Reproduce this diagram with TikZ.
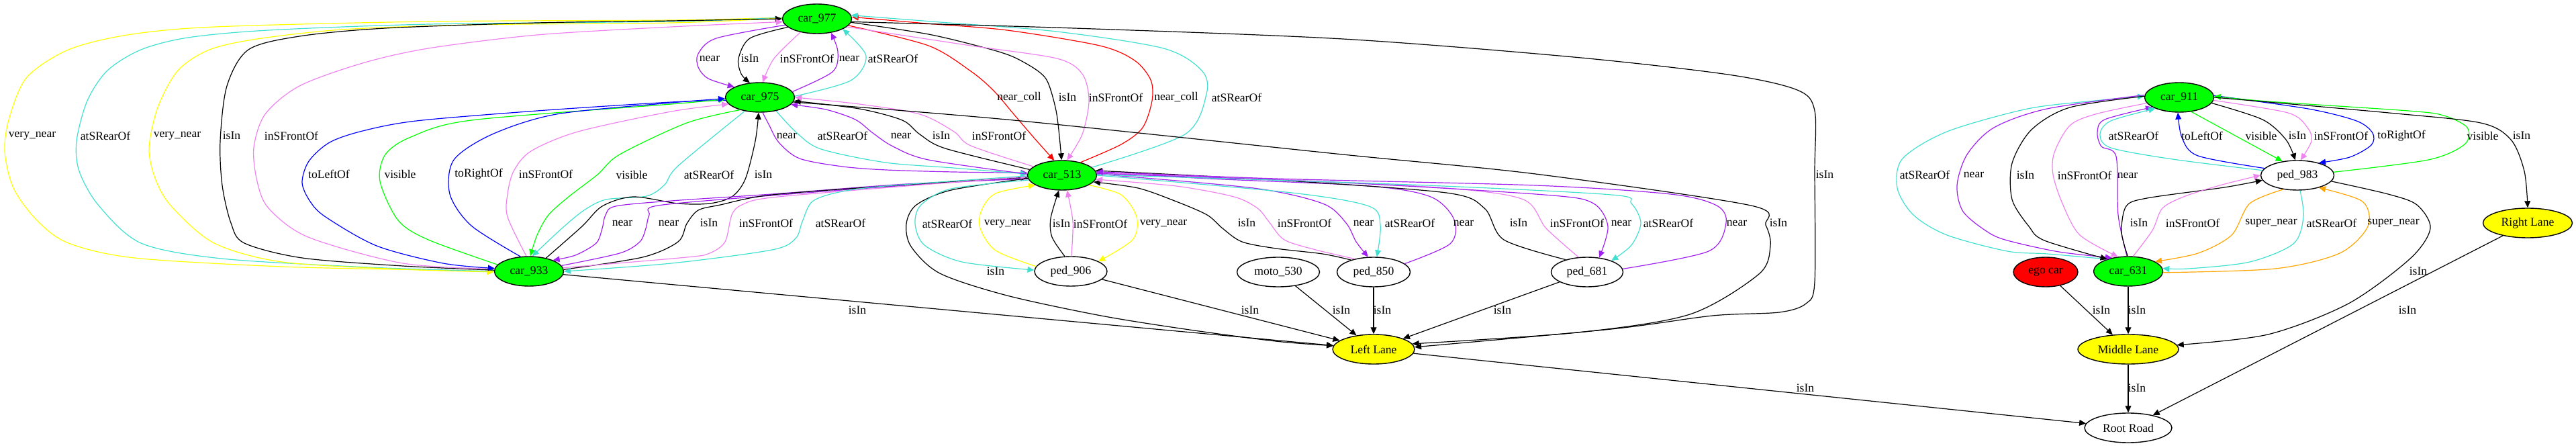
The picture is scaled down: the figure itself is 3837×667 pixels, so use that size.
\documentclass[tikz,border=0pt]{standalone}
\usepackage{fontspec}
\setmainfont{Liberation Serif}
\usetikzlibrary{shapes.geometric,arrows.meta}
\definecolor{cgreen}{HTML}{00FF00}
\definecolor{cyellow}{HTML}{FFFF00}
\definecolor{cred}{HTML}{FF0000}
\definecolor{cnear}{HTML}{A020F0}
\definecolor{cfront}{HTML}{EE82EE}
\definecolor{crear}{HTML}{40E0D0}
\definecolor{cvnear}{HTML}{FFFF00}
\definecolor{cvis}{HTML}{00FF00}
\definecolor{cside}{HTML}{0000FF}
\definecolor{ccoll}{HTML}{FF0000}
\definecolor{csuper}{HTML}{FFA500}

\begin{document}
\begin{tikzpicture}[x=0.5pt, y=-0.5pt, >={Triangle[length=5pt,width=4.4pt]},
    ent/.style={ellipse, draw, line width=0.7pt, inner sep=0pt,
        minimum height=22pt, minimum width=51.5pt, font=\fontsize{8.8}{10}\selectfont},
    car/.style={ent, fill=cgreen},
    lane/.style={ent, fill=cyellow},
    obj/.style={ent, fill=white},
    rel/.style={->, line width=0.6pt},
    lbl/.style={font=\fontsize{8.8}{10}\selectfont, inner sep=0pt}]

\useasboundingbox (0,0) rectangle (3837,667);

% Vehicles and lanes, left group
\node[car] (car977) at (1217,28) {car\_977};
\node[car] (car975) at (1132,145) {car\_975};
\node[car] (car513) at (1582,261) {car\_513};
\node[car] (car933) at (788,404) {car\_933};
\node[obj, minimum width=54pt] (ped906) at (1595,404) {ped\_906};
\node[obj, minimum width=61.5pt] (moto530) at (1904,405) {moto\_530};
\node[obj, minimum width=54.5pt] (ped850) at (2046,405) {ped\_850};
\node[obj, minimum width=53.5pt] (ped681) at (2364,405) {ped\_681};
\node[lane, minimum width=61pt] (leftlane) at (2046,520) {Left Lane};

% Right group
\node[car] (car911) at (3246,145) {car\_911};
\node[obj, minimum width=54.5pt] (ped983) at (3422,261) {ped\_983};
\node[ent, fill=cred, minimum width=48pt] (ego) at (3047,405) {ego car};
\node[car] (car631) at (3170,404) {car\_631};
\node[lane, minimum width=75pt] (midlane) at (3170,520) {Middle Lane};
\node[lane, minimum width=66.5pt] (rightlane) at (3765,332) {Right Lane};
\node[obj, minimum width=65pt] (root) at (3170,637) {Root Road};

% car_977 <-> car_933, round the left
\draw[rel, cvnear] plot[smooth] coordinates {(car977.178) (1000,30) (640,32) (320,40) (190,52) (102,74) (40,115) (14,175) (7,225) (20,280) (55,328) (102,362) (200,384) (420,397) (640,402) (car933.180)};
\node[lbl] (l1) at (48,202) {very\_near};
\draw[rel, crear] plot[smooth] coordinates {(car977.178) (1000,32) (640,36) (400,45) (280,56) (210,74) (160,105) (130,150) (114,210) (118,255) (147,306) (210,362) (330,385) (550,398) (car933.180)};
\node[lbl] (l2) at (157,202) {atSRearOf};
\draw[rel, cvnear] plot[smooth] coordinates {(car977.179) (1000,34) (700,37) (510,44) (383,58) (312,74) (265,105) (235,160) (222,221) (232,268) (256,308) (319,362) (420,390) (600,401) (car933.181)};
\node[lbl] (l3) at (264,202) {very\_near};
\draw[rel] plot[smooth] coordinates {(car933.178) (600,396) (450,384) (364,362) (344,332) (331,276) (328,210) (338,128) (370,74) (446,54) (574,42) (800,34) (1000,31) (car977.180)};
\node[lbl] (l4) at (345,202) {isIn};
\draw[rel, cfront] plot[smooth] coordinates {(car933.176) (600,392) (459,353) (400,310) (383,270) (378,220) (395,170) (446,128) (540,94) (638,72) (800,52) (1000,40) (car977.185)};
\node[lbl] (l5) at (434,202) {inSFrontOf};

% car_975 <-> car_933
\draw[rel, cside] plot[smooth] coordinates {(car975.185) (1000,152) (800,165) (620,180) (540,195) (491,212) (460,240) (450,272) (462,300) (485,323) (561,366) (660,392) (car933.175)};
\node[lbl] (l6) at (490,259) {toLeftOf};
\draw[rel, cvis] plot[smooth] coordinates {(car933.168) (638,357) (593,328) (566,270) (574,230) (612,204) (702,179) (1000,155) (car975.183)};
\node[lbl] (l7) at (596,259) {visible};
\draw[rel, cside] plot[smooth] coordinates {(car933.120) (702,336) (670,289) (676,238) (733,200) (829,170) (1000,153) (car975.182)};
\node[lbl] (l8) at (713,259) {toRightOf};
\draw[rel, cfront] plot[smooth] coordinates {(car933.100) (756,323) (756,289) (765,255) (791,225) (861,196) (1000,166) (car975.192)};
\node[lbl] (l9) at (813,259) {inSFrontOf};
\draw[rel, cvis] plot[smooth] coordinates {(car975.212) (1023,183) (923,230) (890,260) (847,293) (817,320) (800,350) (car933.85)};
\node[lbl] (l10) at (941,260) {visible};
\draw[rel, crear] plot[smooth] coordinates {(car975.222) (1010,247) (990,275) (963,292) (903,297) (870,313) (837,340) (car933.78)};
\node[lbl] (l11) at (1056,260) {atSRearOf};
\draw[rel] plot[smooth] coordinates {(car933.38) (867,337) (897,307) (943,293) (1010,303) (1057,303) (1090,293) (1110,267) (1125,210) (car975.265)};
\node[lbl] (l12) at (1137,260) {isIn};

% car_513 <-> car_933
\draw[rel, cnear] plot[smooth] coordinates {(car513.186) (1350,274) (1150,289) (1000,299) (917,307) (902,320) (897,340) (888,362) (857,380) (car933.25)};
\node[lbl] (l13) at (927,332) {near};
\draw[rel, cnear] plot[smooth] coordinates {(car933.10) (923,377) (953,360) (962,340) (967,320) (980,306) (1150,291) (1350,276) (car513.184)};
\node[lbl] (l14) at (996,332) {near};
\draw[rel] plot[smooth] coordinates {(car933.3) (957,383) (1010,360) (1023,333) (1040,313) (1073,305) (1150,290) (1350,275) (car513.183)};
\node[lbl] (l15) at (1056,332) {isIn};
\draw[rel, cfront] plot[smooth] coordinates {(car933.6) (1023,383) (1057,377) (1080,360) (1090,320) (1105,305) (1150,294) (1350,277) (car513.182)};
\node[lbl] (l16) at (1141,332) {inSFrontOf};
\draw[rel, crear] plot[smooth] coordinates {(car513.181) (1319,277) (1250,286) (1210,300) (1195,330) (1185,355) (1150,372) (1000,392) (car933.0)};
\node[lbl] (l17) at (1252,332) {atSRearOf};

% car_975 <-> car_513
\draw[rel, cnear] plot[smooth] coordinates {(car975.280) (1145,185) (1160,212) (1191,236) (1255,248) (1320,253) (1420,256) (car513.176)};
\node[lbl] (l18) at (1172,202) {near};
\draw[rel, crear] plot[smooth] coordinates {(car975.320) (1187,198) (1223,222) (1319,242) (1420,250) (car513.178)};
\node[lbl] (l19) at (1255,202) {atSRearOf};
\draw[rel, cnear] plot[smooth] coordinates {(car513.178) (1383,238) (1330,218) (1300,198) (1274,178) (1230,163) (car975.347)};
\node[lbl] (l20) at (1342,202) {near};
\draw[rel] plot[smooth] coordinates {(car513.170) (1408,221) (1370,200) (1344,179) (1280,162) (car975.354)};
\node[lbl] (l21) at (1402,202) {isIn};
\draw[rel, cfront] plot[smooth] coordinates {(car513.163) (1446,217) (1421,196) (1370,170) (1280,155) (car975.0)};
\node[lbl] (l22) at (1488,202) {inSFrontOf};

% car_977 <-> car_975
\draw[rel, cnear] plot[smooth] coordinates {(car977.191) (1067,57) (1040,80) (1040,100) (1055,117) (car975.158)};
\node[lbl] (l23) at (1057,87) {near};
\draw[rel] plot[smooth] coordinates {(car977.196) (1117,57) (1100,87) (1104,110) (car975.125)};
\node[lbl] (l24) at (1117,87) {isIn};
\draw[rel, cfront] plot[smooth] coordinates {(car977.219) (1153,87) (car975.80)};
\node[lbl] (l25) at (1202,87) {inSFrontOf};
\draw[rel, cnear] plot[smooth] coordinates {(car975.10) (1240,107) (1248,77) (car977.315)};
\node[lbl] (l26) at (1265,87) {near};
\draw[rel, crear] plot[smooth] coordinates {(car975.2) (1267,120) (1290,83) (car977.338)};
\node[lbl] (l27) at (1330,87) {atSRearOf};

% car_977 <-> car_513
\draw[rel, ccoll] plot[smooth] coordinates {(car977.348) (1383,68) (1446,106) (1480,135) (1510,170) (1540,205) (car513.118)};
\node[lbl] (l28) at (1518,145) {near\_coll};
\draw[rel] plot[smooth] coordinates {(car977.354) (1383,51) (1470,72) (1510,85) (1545,105) (1561,123) (1574,170) (car513.92)};
\node[lbl] (l29) at (1590,145) {isIn};
\draw[rel, cfront] plot[smooth] coordinates {(car977.345) (1446,68) (1574,87) (1612,110) (1622,150) (1612,200) (car513.72)};
\node[lbl] (l30) at (1662,145) {inSFrontOf};
\draw[rel, ccoll] plot[smooth] coordinates {(car513.35) (1670,215) (1702,190) (1716,150) (1714,119) (1690,90) (1638,68) (1500,45) (1380,35) (car977.3)};
\node[lbl] (l31) at (1752,145) {near\_coll};
\draw[rel, crear] plot[smooth] coordinates {(car513.15) (1765,200) (1797,140) (1790,105) (1733,72) (1574,47) (1400,33) (car977.6)};
\node[lbl] (l32) at (1842,145) {atSRearOf};

% Left Lane
\draw[rel] plot[smooth] coordinates {(car977.355) (1600,42) (2000,58) (2344,85) (2574,111) (2677,134) (2703,165) (2703,255) (2703,420) (2690,452) (2650,465) (2551,470) (2400,490) (leftlane.3)};
\node[lbl] (l33) at (2718,260) {isIn};
\draw[rel] plot[smooth] coordinates {(car975.352) (1510,179) (2000,230) (2287,259) (2608,306) (2630,335) (2637,366) (2620,408) (2517,468) (2350,495) (leftlane.8)};
\node[lbl] (l34) at (2649,332) {isIn};
\draw[rel] (car933) -- (leftlane);
\node[lbl] (l35) at (1277,462) {isIn};
\draw[rel] plot[smooth] coordinates {(car513.185) (1417,283) (1365,305) (1350,333) (1357,367) (1400,407) (1500,440) (1640,470) (1765,490) (1900,508) (leftlane.175)};
\node[lbl] (l36) at (1483,404) {isIn};
\draw[rel] (ped906) -- (leftlane);
\node[lbl] (l37) at (1862,462) {isIn};
\draw[rel] (moto530) -- (leftlane);
\node[lbl] (l38) at (1998,462) {isIn};
\draw[rel] (ped850) -- (leftlane);
\node[lbl] (l39) at (2059,462) {isIn};
\draw[rel] (ped681) -- (leftlane);
\node[lbl] (l40) at (2238,462) {isIn};
\draw[rel] (leftlane) -- (root);
\node[lbl] (l41) at (2689,578) {isIn};

% car_513 <-> ped_906
\draw[rel, cvnear] plot[smooth] coordinates {(ped906.172) (1483,373) (1460,340) (1462,313) (1483,288) (car513.200)};
\node[lbl] (l42) at (1501,333) {very\_near};
\draw[rel, crear] plot[smooth] coordinates {(car513.188) (1417,281) (1372,305) (1363,333) (1377,365) (1433,390) (ped906.178)};
\node[lbl] (l43) at (1411,333) {atSRearOf};
\draw[rel] plot[smooth] coordinates {(ped906.112) (1567,353) (1565,325) (car513.258)};
\node[lbl] (l44) at (1581,333) {isIn};
\draw[rel, cfront] plot[smooth] coordinates {(ped906.88) (1598,330) (car513.288)};
\node[lbl] (l45) at (1639,333) {inSFrontOf};
\draw[rel, cvnear] plot[smooth] coordinates {(car513.340) (1670,290) (1693,323) (1687,357) (ped906.20)};
\node[lbl] (l46) at (1733,333) {very\_near};

% car_513 <-> ped_850
\draw[rel] plot[smooth] coordinates {(ped850.152) (1970,378) (1901,370) (1850,360) (1821,340) (1798,320) (1752,300) (1695,280) (car513.348)};
\node[lbl] (l47) at (1857,332) {isIn};
\draw[rel, cfront] plot[smooth] coordinates {(ped850.145) (1960,372) (1913,357) (1890,330) (1873,310) (1838,293) (1752,277) (car513.353)};
\node[lbl] (l48) at (1943,332) {inSFrontOf};
\draw[rel, cnear] plot[smooth] coordinates {(car513.2) (1867,280) (1970,303) (2005,332) (2020,360) (ped850.110)};
\node[lbl] (l49) at (2031,332) {near};
\draw[rel, crear] plot[smooth] coordinates {(car513.0) (1924,287) (2039,307) (2056,335) (ped850.78)};
\node[lbl] (l50) at (2100,332) {atSRearOf};
\draw[rel, cnear] plot[smooth] coordinates {(ped850.15) (2160,363) (2166,327) (2131,293) (2039,277) (1800,266) (car513.5)};
\node[lbl] (l51) at (2180,332) {near};

% car_513 <-> ped_681
\draw[rel] plot[smooth] coordinates {(ped681.150) (2240,357) (2211,310) (2154,287) (1900,268) (car513.8)};
\node[lbl] (l52) at (2262,332) {isIn};
\draw[rel, cfront] plot[smooth] coordinates {(ped681.120) (2303,340) (2269,297) (2154,280) (1900,267) (car513.4)};
\node[lbl] (l53) at (2349,332) {inSFrontOf};
\draw[rel, cnear] plot[smooth] coordinates {(car513.3) (2000,272) (2300,290) (2372,302) (2395,337) (ped681.50)};
\node[lbl] (l54) at (2415,332) {near};
\draw[rel, crear] plot[smooth] coordinates {(car513.1) (2100,275) (2400,290) (2430,303) (2444,332) (2430,365) (ped681.25)};
\node[lbl] (l55) at (2485,332) {atSRearOf};
\draw[rel, cnear] plot[smooth] coordinates {(ped681.5) (2545,374) (2571,332) (2557,306) (2488,289) (2287,276) (1900,266) (car513.6)};
\node[lbl] (l56) at (2587,332) {near};

% car_911 <-> car_631
\draw[rel, crear] plot[smooth] coordinates {(car631.150) (3050,378) (2990,374) (2900,350) (2850,320) (2826,280) (2834,236) (2900,196) (3020,162) (3120,150) (car911.178)};
\node[lbl] (r1) at (2867,260) {atSRearOf};
\draw[rel, cnear] plot[smooth] coordinates {(car911.176) (3049,162) (2970,190) (2930,230) (2915,276) (2924,315) (2960,345) (2990,358) (3067,375) (car631.140)};
\node[lbl] (r2) at (2940,260) {near};
\draw[rel] plot[smooth] coordinates {(car911.178) (3083,160) (3026,193) (2997,243) (2997,297) (3022,337) (3045,358) (car631.150)};
\node[lbl] (r3) at (3017,261) {isIn};
\draw[rel, cfront] plot[smooth] coordinates {(car911.190) (3121,170) (3083,187) (3060,227) (3058,260) (3072,303) (3098,350) (car631.125)};
\node[lbl] (r4) at (3105,261) {inSFrontOf};
\draw[rel, cnear] plot[smooth] coordinates {(car631.95) (3155,320) (3152,233) (3130,218) (3124,197) (3135,178) (car911.200)};
\node[lbl] (r5) at (3169,261) {near};

% car_911 <-> ped_983
\draw[rel, crear] plot[smooth] coordinates {(ped983.172) (3236,237) (3144,220) (3128,200) (3144,180) (car911.205)};
\node[lbl] (r6) at (3178,202) {atSRearOf};
\draw[rel, cside] plot[smooth] coordinates {(ped983.168) (3274,232) (3250,205) (car911.265)};
\node[lbl] (r7) at (3280,202) {toLeftOf};
\draw[rel, cvis] (car911.310) -- (ped983.137);
\node[lbl] (r8) at (3368,202) {visible};
\draw[rel] plot[smooth] coordinates {(car911.350) (3370,178) (3405,208) (ped983.98)};
\node[lbl] (r9) at (3422,202) {isIn};
\draw[rel, cfront] plot[smooth] coordinates {(car911.355) (3408,168) (3437,190) (3443,210) (ped983.78)};
\node[lbl] (r10) at (3487,202) {inSFrontOf};
\draw[rel, cside] plot[smooth] coordinates {(car911.3) (3438,162) (3510,180) (3534,198) (3532,216) (3500,234) (ped983.30)};
\node[lbl] (r11) at (3577,202) {toRightOf};
\draw[rel, cvis] plot[smooth] coordinates {(ped983.5) (3617,238) (3671,215) (3675,190) (3640,172) (3587,165) (3378,151) (car911.2)};
\node[lbl] (r12) at (3698,202) {visible};
\draw[rel] plot[smooth] coordinates {(car911.0) (3558,168) (3695,183) (3740,208) (3760,255) (rightlane.90)};
\node[lbl] (r13) at (3756,202) {isIn};

% car_631 <-> ped_983
\draw[rel] plot[smooth] coordinates {(car631.92) (3160,345) (3167,307) (3198,295) (3313,279) (ped983.188)};
\node[lbl] (r14) at (3186,332) {isIn};
\draw[rel, cfront] plot[smooth] coordinates {(car631.72) (3206,343) (3221,310) (3255,292) (3310,275) (ped983.180)};
\node[lbl] (r15) at (3266,332) {inSFrontOf};
\draw[rel, csuper] plot[smooth] coordinates {(ped983.225) (3351,303) (3324,350) (3274,377) (car631.20)};
\node[lbl] (r16) at (3383,332) {super\_near};
\draw[rel, crear] plot[smooth] coordinates {(ped983.280) (3431,323) (3416,363) (3351,390) (3260,400) (car631.5)};
\node[lbl] (r17) at (3473,332) {atSRearOf};
\draw[rel, csuper] plot[smooth] coordinates {(car631.358) (3389,400) (3485,377) (3527,337) (3519,300) (ped983.330)};
\node[lbl] (r18) at (3565,332) {super\_near};

% Middle Lane, Right Lane, Root Road
\draw[rel] plot[smooth] coordinates {(ped983.350) (3557,289) (3600,305) (3620,340) (3590,385) (3498,452) (3378,498) (midlane.5)};
\node[lbl] (r19) at (3602,404) {isIn};
\draw[rel] (ego) -- (midlane);
\node[lbl] (r20) at (3130,462) {isIn};
\draw[rel] (car631) -- (midlane);
\node[lbl] (r21) at (3183,462) {isIn};
\draw[rel] (midlane) -- (root);
\node[lbl] (r22) at (3183,578) {isIn};
\draw[rel] (rightlane) -- (root);
\node[lbl] (r23) at (3586,462) {isIn};

\end{tikzpicture}
\end{document}
